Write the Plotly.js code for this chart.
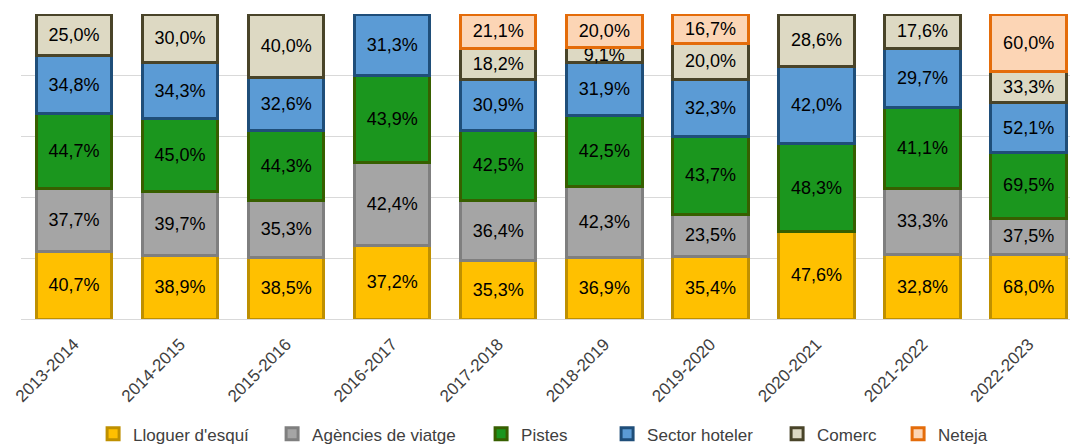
<!DOCTYPE html>
<html>
<head>
<meta charset="utf-8">
<script src="https://cdn.plot.ly/plotly-3.0.1.min.js"></script>
<style>
html, body { margin: 0; padding: 0; overflow: hidden; background: #fff; }
#chart { width: 1070px; height: 445px; }
</style>
</head>
<body>
<div id="chart"></div>
<script>
// Categories (seasons)
var seasons = ["2013-2014", "2014-2015", "2015-2016", "2016-2017", "2017-2018",
               "2018-2019", "2019-2020", "2020-2021", "2021-2022", "2022-2023"];

// Series values (percent labels shown in each segment); null = no segment
var lloguerEsqui   = [40.7, 38.9, 38.5, 37.2, 35.3, 36.9, 35.4, 47.6, 32.8, 68.0];
var agenciesViatge = [37.7, 39.7, 35.3, 42.4, 36.4, 42.3, 23.5, null, 33.3, 37.5];
var pistes         = [44.7, 45.0, 44.3, 43.9, 42.5, 42.5, 43.7, 48.3, 41.1, 69.5];
var sectorHoteler  = [34.8, 34.3, 32.6, 31.3, 30.9, 31.9, 32.3, 42.0, 29.7, 52.1];
var comerc         = [25.0, 30.0, 40.0, null, 18.2, 9.1, 20.0, 28.6, 17.6, 33.3];
var neteja         = [null, null, null, null, 21.1, 20.0, 16.7, null, null, 60.0];

var seriesNames = ["Lloguer d'esquí", "Agències de viatge", "Pistes", "Sector hoteler", "Comerc", "Neteja"];

var seriesData = [lloguerEsqui, agenciesViatge, pistes, sectorHoteler, comerc, neteja];
var fills   = ["#FFC000", "#A5A5A5", "#1B961E", "#5B9BD5", "#DDD9C3", "#FCD5B5"];
var borders = ["#BF9000", "#7F7F7F", "#375F00", "#1F4E79", "#494429", "#E46C0A"];
var legendWidths = [134, 164, 81, 125, 76, 60];

function fmt(v) {
  if (v === null || v === undefined) return "";
  return v.toFixed(1).replace(".", ",") + "%";
}

var traces = seriesData.map(function (vals, i) {
  return {
    type: "bar",
    name: seriesNames[i],
    x: seasons,
    y: vals,
    text: vals.map(fmt),
    textposition: "inside",
    insidetextanchor: "middle",
    textangle: 0,
    textfont: { family: "Liberation Sans, Arial, sans-serif", size: 18, color: "#000000" },
    marker: { color: fills[i], line: { color: borders[i], width: 3 } },
    width: 0.71,
    legendwidth: legendWidths[i],
    hoverinfo: "skip"
  };
});

var layout = {
  width: 1070,
  height: 445,
  margin: { l: 21, r: 0, t: 14, b: 126, pad: 0 },
  paper_bgcolor: "#ffffff",
  plot_bgcolor: "#ffffff",
  barmode: "stack",
  barnorm: "percent",
  uniformtext: { mode: "show", minsize: 18 },
  font: { family: "Liberation Sans, Arial, sans-serif", size: 17, color: "#404040" },
  xaxis: {
    type: "category",
    range: [-0.5, 9.39],
    automargin: false,
    tickangle: -45,
    ticks: "",
    showgrid: false,
    showline: false,
    zeroline: false,
    tickfont: { size: 17, color: "#404040" },
    ticklabelstandoff: 11
  },
  yaxis: {
    range: [0, 100],
    automargin: false,
    tickvals: [0, 20, 40, 60, 80, 100],
    showticklabels: false,
    ticks: "",
    showgrid: true,
    gridcolor: "#D9D9D9",
    gridwidth: 1,
    zeroline: true,
    zerolinecolor: "#D9D9D9",
    zerolinewidth: 1,
    showline: false
  },
  showlegend: true,
  legend: {
    orientation: "h",
    xref: "container",
    yref: "container",
    x: 0.087,
    xanchor: "left",
    y: 0.024,
    yanchor: "middle",
    font: { size: 17, color: "#404040" },
    itemwidth: 30,
    traceorder: "normal",
    bgcolor: "rgba(0,0,0,0)"
  }
};

Plotly.newPlot("chart", traces, layout, { displayModeBar: false, staticPlot: true });
</script>
</body>
</html>
